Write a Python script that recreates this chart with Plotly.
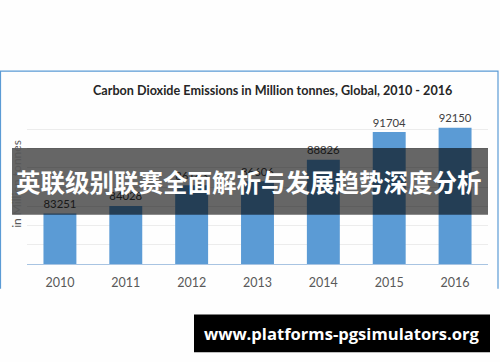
import plotly.graph_objects as go

years = ["2010", "2011", "2012", "2013", "2014", "2015", "2016"]
emissions = [83251, 84028, 86183, 86606, 88826, 91704, 92150]
value_labels = ["83251", "84028", "86183", "86606", "88826", "91704", "92150"]
title_text = "Carbon Dioxide Emissions in Million tonnes, Global, 2010 - 2016"
y_title = "in Million tonnes"
banner_text = "英联级别联赛全面解析与发展趋势深度分析"
url_text = "www.platforms-pgsimulators.org"

W, H = 500, 362
L, R, T, B = 27, 488, 110, 264.3


def px(x):
    return (x - L) / (R - L)


def py(y):
    return (B - y) / (B - T)


fig = go.Figure()
fig.add_trace(go.Bar(
    x=years, y=emissions, text=value_labels, textposition="outside",
    textfont=dict(color="#404040", size=13.5, family="Lato"),
    marker=dict(color="#5b9bd5", line=dict(width=0)),
    cliponaxis=False, hoverinfo="skip",
))

shapes = [
    # chart border (left, top, right)
    dict(type="path", xref="paper", yref="paper",
         path=f"M {px(0.5)} {py(289)} L {px(0.5)} {py(71)} L {px(498)} {py(71)} L {px(498)} {py(289)}",
         line=dict(color="#5b9bd5", width=1.2), layer="above"),
    # dark banner
    dict(type="rect", xref="paper", yref="paper",
         x0=px(12), x1=px(488), y0=py(215), y1=py(148),
         fillcolor="rgba(0,0,0,0.6)", line=dict(width=0), layer="above"),
    # url box
    dict(type="rect", xref="paper", yref="paper",
         x0=px(194), x1=px(490), y0=py(352.7), y1=py(315),
         fillcolor="#000000", line=dict(width=0), layer="above"),
]

annotations = [
    dict(text=title_text, xref="paper", yref="paper", x=px(272), y=py(90),
         showarrow=False, xanchor="center", yanchor="middle",
         font=dict(family="Lato", size=12.6, color="#262626", weight="bold")),
    dict(text=y_title, xref="paper", yref="paper", x=px(17), y=py(184),
         showarrow=False, textangle=-90, xanchor="center", yanchor="middle",
         font=dict(family="Lato", size=12, color="#595959")),
    dict(text=banner_text, xref="paper", yref="paper", x=px(249), y=py(182),
         showarrow=False, xanchor="center", yanchor="middle",
         font=dict(family="Noto Sans CJK SC", size=24.5, color="#ffffff", weight="bold")),
    dict(text=url_text, xref="paper", yref="paper", x=px(342), y=py(334),
         showarrow=False, xanchor="center", yanchor="middle",
         font=dict(family="Open Sans", size=16.6, color="#ffffff", weight="bold")),
]

fig.update_layout(
    width=W, height=H,
    margin=dict(l=L, r=W - R, t=T, b=H - B, pad=0),
    paper_bgcolor="#fefefe", plot_bgcolor="#fefefe",
    bargap=0.5, showlegend=False,
    shapes=shapes, annotations=annotations,
    xaxis=dict(showline=True, linecolor="#a8c4e2", linewidth=1, ticks="",
               tickfont=dict(family="Lato", size=12.5, color="#595959"),
               ticklabelstandoff=7,
               showgrid=False, fixedrange=True),
    yaxis=dict(range=[78000, 94000], dtick=2000, tick0=78000,
               showticklabels=False, ticks="", showgrid=True,
               gridcolor="#ececec", gridwidth=1, zeroline=False, fixedrange=True),
)

fig.write_html("out.html", config={"displayModeBar": False})
